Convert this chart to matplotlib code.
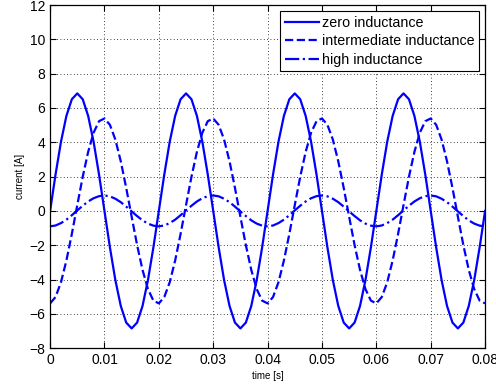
import matplotlib
matplotlib.use("Agg")
import matplotlib.pyplot as plt
import numpy as np

# time axis, one sample per millisecond
time_s = np.arange(81) / 1000.0

# current values, one every 1 ms
zero_ind = [
    0.00, 2.12, 4.03, 5.54, 6.51, 6.85, 6.51, 5.54, 4.03, 2.12,
    0.00, -2.12, -4.03, -5.54, -6.51, -6.85, -6.51, -5.54, -4.03, -2.12,
    0.00, 2.12, 4.03, 5.54, 6.51, 6.85, 6.51, 5.54, 4.03, 2.12,
    0.00, -2.12, -4.03, -5.54, -6.51, -6.85, -6.51, -5.54, -4.03, -2.12,
    0.00, 2.12, 4.03, 5.54, 6.51, 6.85, 6.51, 5.54, 4.03, 2.12,
    0.00, -2.12, -4.03, -5.54, -6.51, -6.85, -6.51, -5.54, -4.03, -2.12,
    0.00, 2.12, 4.03, 5.54, 6.51, 6.85, 6.51, 5.54, 4.03, 2.12,
    0.00, -2.12, -4.03, -5.54, -6.51, -6.85, -6.51, -5.54, -4.03, -2.12,
    0.00,
]

intermediate_ind = [
    -5.39, -5.02, -4.16, -2.89, -1.34, 0.34, 1.99, 3.44, 4.56, 5.23,
    5.39, 5.02, 4.16, 2.89, 1.34, -0.34, -1.99, -3.44, -4.56, -5.23,
    -5.39, -5.02, -4.16, -2.89, -1.34, 0.34, 1.99, 3.44, 4.56, 5.23,
    5.39, 5.02, 4.16, 2.89, 1.34, -0.34, -1.99, -3.44, -4.56, -5.23,
    -5.39, -5.02, -4.16, -2.89, -1.34, 0.34, 1.99, 3.44, 4.56, 5.23,
    5.39, 5.02, 4.16, 2.89, 1.34, -0.34, -1.99, -3.44, -4.56, -5.23,
    -5.39, -5.02, -4.16, -2.89, -1.34, 0.34, 1.99, 3.44, 4.56, 5.23,
    5.39, 5.02, 4.16, 2.89, 1.34, -0.34, -1.99, -3.44, -4.56, -5.23,
    -5.39,
]

high_ind = [
    -0.90, -0.85, -0.71, -0.51, -0.25, 0.03, 0.30, 0.55, 0.74, 0.86,
    0.90, 0.85, 0.71, 0.51, 0.25, -0.03, -0.30, -0.55, -0.74, -0.86,
    -0.90, -0.85, -0.71, -0.51, -0.25, 0.03, 0.30, 0.55, 0.74, 0.86,
    0.90, 0.85, 0.71, 0.51, 0.25, -0.03, -0.30, -0.55, -0.74, -0.86,
    -0.90, -0.85, -0.71, -0.51, -0.25, 0.03, 0.30, 0.55, 0.74, 0.86,
    0.90, 0.85, 0.71, 0.51, 0.25, -0.03, -0.30, -0.55, -0.74, -0.86,
    -0.90, -0.85, -0.71, -0.51, -0.25, 0.03, 0.30, 0.55, 0.74, 0.86,
    0.90, 0.85, 0.71, 0.51, 0.25, -0.03, -0.30, -0.55, -0.74, -0.86,
    -0.90,
]

labels = ["zero inductance", "intermediate inductance", "high inductance"]
x_ticks = [0, 0.01, 0.02, 0.03, 0.04, 0.05, 0.06, 0.07, 0.08]
x_ticklabels = ["0", "0.01", "0.02", "0.03", "0.04", "0.05", "0.06", "0.07", "0.08"]
y_ticks = [-8, -6, -4, -2, 0, 2, 4, 6, 8, 10, 12]

plt.rcParams["font.family"] = ["Liberation Sans", "DejaVu Sans"]

fig = plt.figure(figsize=(4.96, 3.89), dpi=100)
ax = fig.add_axes([0.101, 0.105, 0.877, 0.882])

ax.plot(time_s, zero_ind, "-", color="#0000ff", lw=1.6, label=labels[0])
ax.plot(time_s, intermediate_ind, "--", color="#0000ff", lw=1.6, label=labels[1])
ax.plot(time_s, high_ind, "-.", color="#0000ff", lw=1.6, label=labels[2])

ax.set_xlim(0, 0.08)
ax.set_ylim(-8, 12)
ax.set_xticks(x_ticks)
ax.set_xticklabels(x_ticklabels)
ax.set_yticks(y_ticks)
ax.tick_params(direction="in", top=True, right=True, labelsize=10, length=4, width=0.8)
ax.grid(True, color="black", linestyle=(0, (1, 3)), linewidth=0.6)
for s in ax.spines.values():
    s.set_linewidth(0.9)

ax.set_xlabel("time [s]", fontsize=7, labelpad=3)
ax.set_ylabel("current [A]", fontsize=7, labelpad=3)

leg = ax.legend(loc="upper right", fontsize=10.3, frameon=True, fancybox=False,
                edgecolor="black", framealpha=1, handlelength=2.4,
                handletextpad=0.2, labelspacing=0.32, borderpad=0.3,
                borderaxespad=0.45)
leg.get_frame().set_linewidth(0.8)

fig.savefig("out.png", dpi=100)
